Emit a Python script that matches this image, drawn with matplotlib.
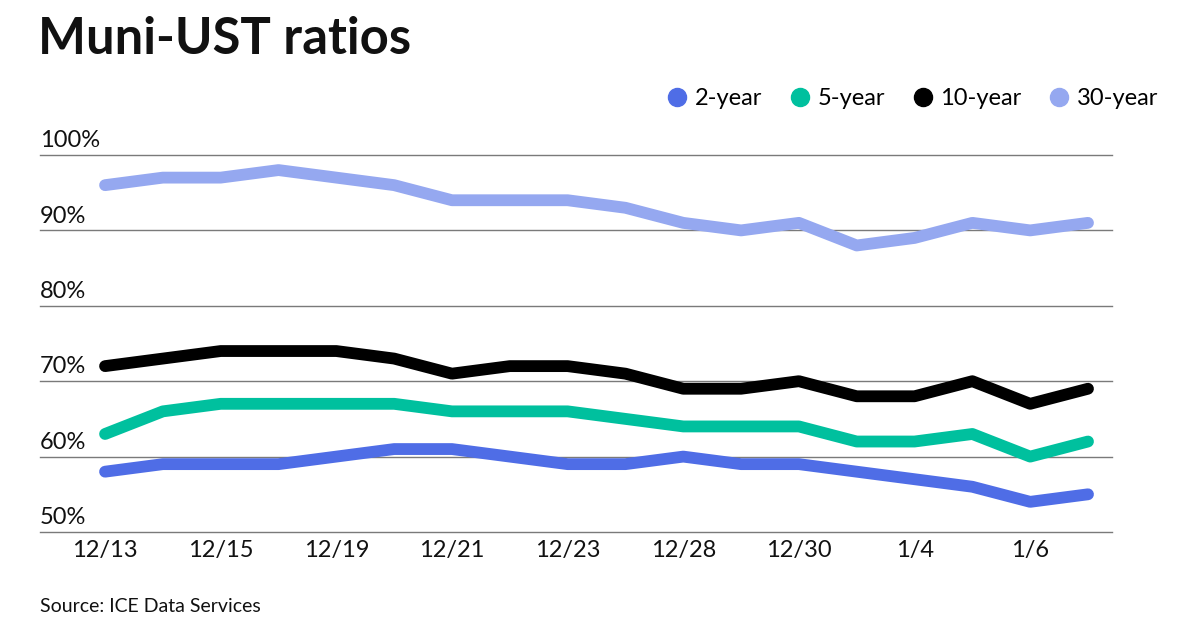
import matplotlib.pyplot as plt
from matplotlib.lines import Line2D

plt.rcParams['font.family'] = ['Lato', 'DejaVu Sans']

# data
dates = ['12/13', '12/14', '12/15', '12/16', '12/19', '12/20', '12/21', '12/22', '12/23',
         '12/27', '12/28', '12/29', '12/30', '1/3', '1/4', '1/5', '1/6', '1/9']
two_year = [58, 59, 59, 59, 60, 61, 61, 60, 59, 59, 60, 59, 59, 58, 57, 56, 54, 55]
five_year = [63, 66, 67, 67, 67, 67, 66, 66, 66, 65, 64, 64, 64, 62, 62, 63, 60, 62]
ten_year = [72, 73, 74, 74, 74, 73, 71, 72, 72, 71, 69, 69, 70, 68, 68, 70, 67, 69]
thirty_year = [96, 97, 97, 98, 97, 96, 94, 94, 94, 93, 91, 90, 91, 88, 89, 91, 90, 91]
y_ticks = [50, 60, 70, 80, 90, 100]

series = [('2-year', two_year, '#4f6de6'),
          ('5-year', five_year, '#00c09e'),
          ('10-year', ten_year, '#000000'),
          ('30-year', thirty_year, '#95a8f0')]

fig = plt.figure(figsize=(12, 6.3), dpi=100)
ax = fig.add_axes([40 / 1200, 98 / 630, 1072 / 1200, 377 / 630])

x = list(range(len(dates)))
for y in y_ticks:
    ax.axhline(y, color='#7a7a7a', lw=1.0, zorder=1, clip_on=False)
    ax.text(0, y + 0.5, f'{y}%', transform=ax.get_yaxis_transform(),
            ha='left', va='bottom', fontsize=17, color='#111111')

# draw back to front like the reference
for name, vals, col in series[::-1]:
    ax.plot(x, vals, color=col, lw=8.5, solid_capstyle='round',
            solid_joinstyle='round', zorder=3)

ax.set_xlim(-1.125, 17.415)
ax.set_ylim(50, 100)
ax.set_xticks(x[::2])
ax.set_xticklabels(dates[::2], fontsize=17, color='#111111')
ax.tick_params(axis='x', length=0, pad=6)
ax.set_yticks([])
for s in ax.spines.values():
    s.set_visible(False)

handles = [Line2D([], [], marker='o', ls='', color=col, markersize=13)
           for name, vals, col in series]
fig.legend(handles, [s[0] for s in series], loc='center right',
           bbox_to_anchor=(0.983, 0.843), ncol=4, frameon=False,
           fontsize=17, handletextpad=0.15, columnspacing=1.0,
           handlelength=1.2)

fig.text(38 / 1200, 1 - 40 / 630, 'Muni-UST ratios', fontsize=36.5,
         fontweight='bold', va='center', ha='left', color='#111111')
fig.text(40 / 1200, 1 - 606 / 630, 'Source: ICE Data Services', fontsize=14,
         va='center', ha='left', color='#111111')

fig.savefig('out.png', dpi=100)
